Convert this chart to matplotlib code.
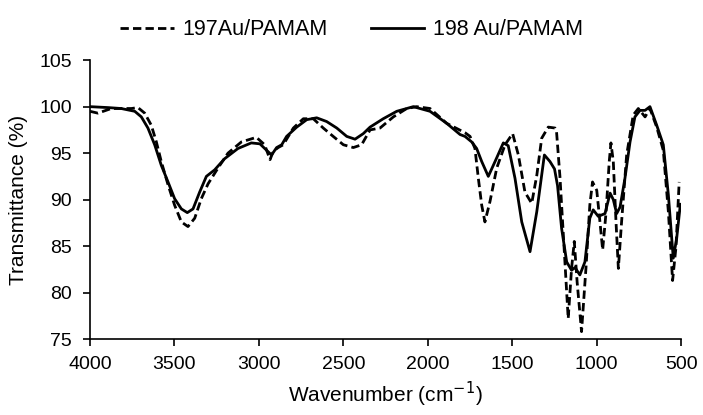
import matplotlib.pyplot as plt

plt.rcParams['font.family'] = ['Liberation Sans', 'DejaVu Sans']

# 197Au/PAMAM (dashed)
wn_197 = [4000, 3953, 3874, 3755, 3716, 3676, 3637, 3607, 3578, 3538, 3499, 3459, 3420,
          3380, 3341, 3301, 3242, 3183, 3104, 3015, 2966, 2934, 2915, 2886, 2856, 2796,
          2737, 2678, 2619, 2560, 2500, 2441, 2392, 2342, 2283, 2204, 2125, 2066, 1987,
          1888, 1780, 1750, 1721, 1701, 1681, 1662, 1632, 1592, 1543, 1498, 1464, 1425,
          1385, 1355, 1326, 1287, 1247, 1238, 1218, 1189, 1169, 1149, 1133, 1116, 1090,
          1064, 1041, 1025, 1000, 981, 965, 945, 926, 916, 902, 886, 872, 853, 823, 784,
          754, 714, 685, 645, 606, 576, 551, 531, 512]
tr_197 = [99.5, 99.3, 99.8, 99.8, 99.9, 99.3, 98.0, 96.2, 94.1, 91.6, 89.4, 87.6, 87.1,
          88.0, 90.1, 91.7, 93.4, 95.0, 96.2, 96.7, 95.9, 94.3, 95.2, 95.6, 95.9, 97.7,
          98.7, 98.7, 97.7, 96.8, 95.9, 95.6, 95.9, 97.5, 97.7, 98.9, 99.8, 100.0, 99.8,
          98.2, 97.2, 96.8, 95.5, 92.3, 89.4, 87.6, 89.8, 93.4, 95.9, 97.1, 94.8, 90.8,
          89.6, 92.6, 96.6, 97.8, 97.7, 97.3, 92.5, 83.5, 77.2, 82.6, 85.5, 81.1, 75.8,
          82.6, 89.4, 91.9, 91.0, 87.6, 84.6, 88.6, 94.1, 96.1, 94.1, 87.6, 82.6, 87.6,
          94.8, 99.1, 99.8, 98.9, 99.8, 97.8, 95.3, 88.7, 81.3, 84.9, 91.9]

# 198 Au/PAMAM (solid)
wn_198 = [4000, 3893, 3815, 3735, 3696, 3657, 3617, 3578, 3538, 3499, 3459, 3424, 3390,
          3351, 3311, 3262, 3203, 3124, 3045, 2994, 2954, 2925, 2895, 2865, 2836, 2776,
          2717, 2658, 2599, 2539, 2480, 2431, 2382, 2342, 2264, 2184, 2086, 1987, 1888,
          1809, 1780, 1740, 1711, 1681, 1642, 1602, 1553, 1524, 1484, 1444, 1395, 1355,
          1310, 1277, 1250, 1232, 1208, 1178, 1149, 1129, 1100, 1070, 1041, 1021, 991,
          951, 921, 902, 882, 862, 833, 803, 774, 744, 714, 685, 645, 606, 576, 547, 527,
          505]
tr_198 = [100.0, 99.9, 99.8, 99.5, 98.9, 97.7, 95.9, 93.7, 91.9, 90.1, 89.0, 88.6, 89.0,
          90.8, 92.5, 93.2, 94.4, 95.5, 96.1, 96.0, 95.3, 94.8, 95.6, 95.9, 96.8, 97.8,
          98.6, 98.8, 98.4, 97.7, 96.8, 96.5, 97.1, 97.8, 98.7, 99.5, 100.0, 99.5, 98.2,
          97.0, 96.8, 96.2, 95.5, 94.1, 92.5, 94.1, 96.1, 95.8, 92.3, 87.6, 84.4, 88.7,
          94.8, 94.1, 93.3, 91.5, 86.9, 83.3, 82.4, 82.7, 81.9, 83.3, 88.0, 88.9, 88.2,
          88.5, 90.7, 90.0, 88.5, 89.2, 92.3, 96.2, 98.9, 99.6, 99.6, 100.0, 98.0, 95.9,
          90.5, 83.7, 85.8, 89.5]

fig = plt.figure(figsize=(7.03, 4.15), dpi=100)
ax = fig.add_axes([0.128, 0.183, 0.841, 0.672])

ax.plot(wn_197, tr_197, color='black', linestyle=(0, (3, 1.5)), linewidth=2.0,
        label='197Au/PAMAM')
ax.plot(wn_198, tr_198, color='black', linestyle='-', linewidth=2.0,
        label='198 Au/PAMAM')

ax.set_xlim(4000, 500)
ax.set_ylim(75, 105)
ax.set_xticks(range(4000, 499, -500))
ax.set_yticks(range(75, 106, 5))
ax.spines['top'].set_visible(False)
ax.spines['right'].set_visible(False)
ax.spines['left'].set_linewidth(1.2)
ax.spines['bottom'].set_linewidth(1.2)
ax.tick_params(labelsize=14, width=1.2, length=5, direction='out')
ax.tick_params(axis='y', pad=8)
ax.tick_params(axis='x', pad=7)

ax.set_xlabel('Wavenumber (cm$^{-1}$)', fontsize=15, labelpad=5)
ax.set_ylabel('Transmittance (%)', fontsize=15, labelpad=8)

fig.legend(loc='upper center', bbox_to_anchor=(0.5, 1.0), ncol=2, frameon=False,
           fontsize=15.5, handlelength=2.5, handletextpad=0.4, columnspacing=2.0)

fig.savefig('out.png', dpi=100)
